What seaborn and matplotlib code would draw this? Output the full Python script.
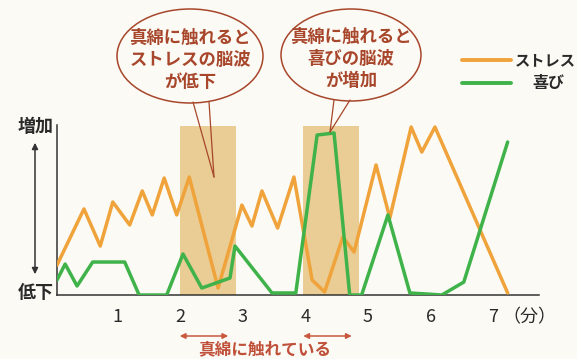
import matplotlib.pyplot as plt
from matplotlib.patches import Ellipse
import numpy as np
from pandas import DataFrame
import seaborn as sns

# stress brainwave (orange)
stressT = [0.04, 0.47, 0.73, 0.93, 1.2, 1.4, 1.56, 1.75, 1.95, 2.15, 2.61, 2.99, 3.15, 3.31,
           3.56, 3.82, 4.11, 4.31, 4.6, 4.78, 5.13, 5.35, 5.69, 5.86, 6.07, 7.23]
stressV = [17.6, 50.6, 28.8, 54.7, 41.2, 61.2, 47.1, 68.8, 47.1, 69.4, 4.1, 52.9, 40.6, 61.2,
           39.4, 69.4, 8.8, 1.8, 34.1, 25.3, 76.5, 45.3, 98.8, 84.1, 98.8, 1.2]
# joy brainwave (green)
joyT = [0.04, 0.17, 0.36, 0.61, 1.12, 1.35, 1.79, 2.05, 2.35, 2.8, 2.88, 3.47, 3.85, 4.19,
        4.46, 4.71, 4.9, 5.32, 5.67, 6.18, 6.53, 7.23]
joyV = [8.8, 18.2, 5.3, 19.4, 19.4, 0, 0, 24.1, 4.1, 10, 28.8, 1.2, 1.2, 94.1,
        95.3, 0, 0, 47.1, 1.2, 0, 7.6, 90]

seriesNames = ["ストレス", "喜び"]
touchSpans = [(2.0, 2.89), (3.97, 4.86)]
xTicks = [1, 2, 3, 4, 5, 6, 7]

colStress = "#efa33a"
colJoy = "#3fb34a"
colNote = "#a8462c"
bg = "#fbfaf4"

sns.set_theme(style="white")
plt.rcParams['font.family'] = ['Noto Sans CJK JP', 'DejaVu Sans']

dfs = DataFrame({
    "t": stressT + joyT,
    "v": stressV + joyV,
    "series": [seriesNames[0]] * len(stressT) + [seriesNames[1]] * len(joyT),
})

fig = plt.figure(figsize=(5.77, 3.59), dpi=100, facecolor=bg)
ax = fig.add_axes([57 / 577, 1 - 295 / 359, 482 / 577, 170 / 359])
ax.set_facecolor(bg)

for a, b in touchSpans:
    ax.axvspan(a, b, ymin=0, ymax=0.995, color="#e5c27c", alpha=0.8, lw=0, zorder=0)

sns.lineplot(data=dfs, x="t", y="v", hue="series", sort=False, estimator=None,
             palette={seriesNames[0]: colStress, seriesNames[1]: colJoy},
             linewidth=2.5, legend=False, ax=ax, zorder=3)

ax.set_xlim(0.04, 7.73)
ax.set_ylim(0, 100)
ax.set_xticks(xTicks)
ax.set_xticklabels([str(x) for x in xTicks])
ax.set_yticks([])
ax.set_xlabel("")
ax.set_ylabel("")
for s in ["top", "right"]:
    ax.spines[s].set_visible(False)
for s in ["left", "bottom"]:
    ax.spines[s].set_color("#333333")
    ax.spines[s].set_linewidth(1.1)
ax.tick_params(axis="x", direction="inout", length=8, width=1, color="#333333",
               pad=5, labelsize=13, labelcolor="#2a2a2a")

# overlay in pixel coords for annotations
ov = fig.add_axes([0, 0, 1, 1], zorder=10)
ov.set_xlim(0, 577)
ov.set_ylim(359, 0)
ov.axis("off")
ov.patch.set_visible(False)

# y axis labels + arrow
ov.text(36, 127, "増加", ha="center", va="center", fontsize=13, fontweight="bold", color="#2a2a2a")
ov.text(36, 292, "低下", ha="center", va="center", fontsize=13, fontweight="bold", color="#2a2a2a")
ov.annotate("", xy=(35, 140), xytext=(35, 277),
            arrowprops=dict(arrowstyle="<|-|>", color="#333333", lw=1.1, mutation_scale=9))
ov.text(529, 317, "（分）", ha="center", va="center", fontsize=13, color="#2a2a2a")

# legend
ov.plot([462, 511], [60, 60], color=colStress, lw=2.8)
ov.plot([462, 511], [83, 83], color=colJoy, lw=2.8)
ov.text(515, 60, seriesNames[0], ha="left", va="center", fontsize=11, fontweight="bold", color="#2a2a2a")
ov.text(532, 83, seriesNames[1], ha="left", va="center", fontsize=11.5, fontweight="bold", color="#2a2a2a")

# callouts
for cx, cy, w, h, txt, base, tip in [
    (190, 56, 146, 94, "真綿に触れると\nストレスの脳波\nが低下", (193, 209), (214, 177)),
    (351, 55, 140, 92, "真綿に触れると\n喜びの脳波\nが増加", (334, 350), (330, 132)),
]:
    ov.add_patch(Ellipse((cx, cy), w, h, facecolor=bg, edgecolor=colNote, lw=1.1))
    for bx in base:
        ov.plot([bx, tip[0]], [cy + h / 2 - 1, tip[1]], color=colNote, lw=0.9)
    ov.text(cx, cy + 4, txt, ha="center", va="center", fontsize=12.5, fontweight="bold",
            color=colNote, linespacing=1.3)

# bottom arrows and note
for a, b in touchSpans:
    ov.annotate("", xy=(177 + (a - 2.0) * 62.7, 336), xytext=(231 + (a - 2.0) * 62.7, 336),
                arrowprops=dict(arrowstyle="<|-|>", color="#c9573e", lw=1.1, mutation_scale=8))
ov.text(265, 349, "真綿に触れている", ha="center", va="center", fontsize=12, fontweight="bold",
        color="#c0503a")

fig.savefig("out.png", dpi=100, facecolor=bg)
